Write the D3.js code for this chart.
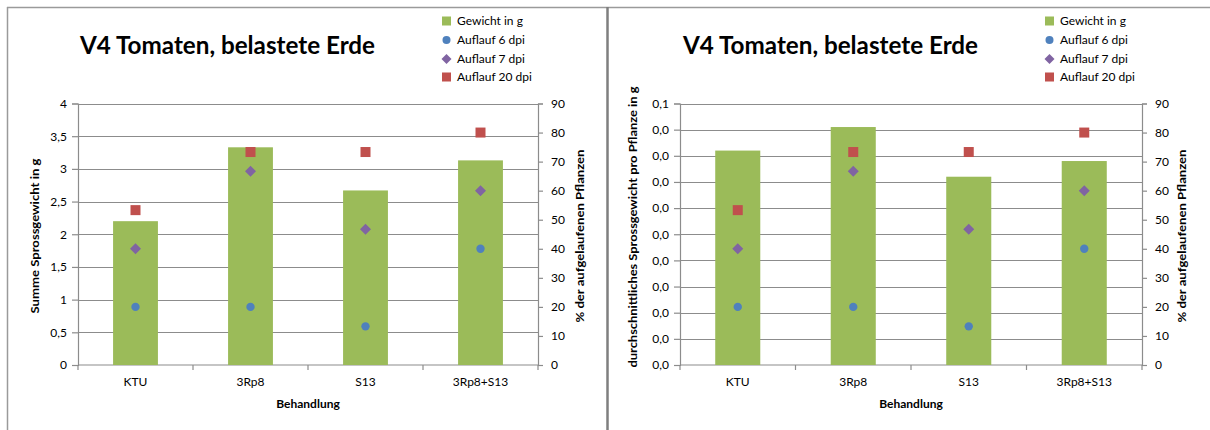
<!DOCTYPE html>
<html>
<head>
<meta charset="utf-8">
<script src="https://cdn.jsdelivr.net/npm/d3@7"></script>
<style>
  html, body { margin: 0; padding: 0; background: #fff; }
  svg { display: block; }
  text { font-family: Lato, "Open Sans", sans-serif; fill: #000; }
</style>
</head>
<body>
<svg id="chart" width="1210" height="430"></svg>
<script>
// ---------- data ----------
const categories = ["KTU", "3Rp8", "S13", "3Rp8+S13"];
const weightSum = [2.2, 3.33, 2.67, 3.13];          // Summe Sprossgewicht in g
const weightAvg = [0.082, 0.091, 0.072, 0.078];     // durchschnittliches Sprossgewicht pro Pflanze in g
const emergence6 = [20, 20, 13.3, 40];              // Auflauf 6 dpi (%)
const emergence7 = [40, 66.7, 46.7, 60];            // Auflauf 7 dpi (%)
const emergence20 = [53.3, 73.3, 73.3, 80];         // Auflauf 20 dpi (%)
const sumTicks = [0, 0.5, 1, 1.5, 2, 2.5, 3, 3.5, 4];
const sumTickLabels = ["0", "0,5", "1", "1,5", "2", "2,5", "3", "3,5", "4"];
const avgTicks = [0, 0.01, 0.02, 0.03, 0.04, 0.05, 0.06, 0.07, 0.08, 0.09, 0.1];
const avgTickLabels = ["0,0", "0,0", "0,0", "0,0", "0,0", "0,0", "0,0", "0,0", "0,0", "0,0", "0,1"];
const pctTicks = [0, 10, 20, 30, 40, 50, 60, 70, 80, 90];
const pctTickLabels = ["0", "10", "20", "30", "40", "50", "60", "70", "80", "90"];
const legendLabels = ["Gewicht in g", "Auflauf 6 dpi", "Auflauf 7 dpi", "Auflauf 20 dpi"];
const chartTitle = "V4 Tomaten, belastete Erde";
const xTitle = "Behandlung";
const leftTitles = ["Summe Sprossgewicht in g", "durchschnittliches Sprossgewicht pro Pflanze in g"];
const rightTitle = "% der aufgelaufenen Pflanzen";

// ---------- style ----------
const C = {
  bar: "#9BBB59", blue: "#4F81BD", purple: "#8064A2", red: "#C0504D",
  grid: "#8c8c8c", axis: "#8c8c8c", frame: "#9a9a9a"
};

const svg = d3.select("#chart");

// outer frames
svg.append("line").attr("x1", 7).attr("x2", 1210).attr("y1", 7.5).attr("y2", 7.5)
  .attr("stroke", C.frame).attr("stroke-width", 1.5);
svg.append("line").attr("x1", 7.5).attr("x2", 7.5).attr("y1", 7).attr("y2", 430)
  .attr("stroke", C.frame).attr("stroke-width", 1.5);
svg.append("line").attr("x1", 607.5).attr("x2", 607.5).attr("y1", 7).attr("y2", 430)
  .attr("stroke", "#7f7f7f").attr("stroke-width", 2.5);

function drawChart(cfg) {
  const g = svg.append("g");
  const top = 103.5, bottom = 365;
  const x = d3.scaleBand().domain(categories).range([cfg.x0, cfg.x1]).padding(0);
  const yL = d3.scaleLinear().domain(cfg.yDomain).range([bottom, top]);
  const yR = d3.scaleLinear().domain([0, 90]).range([bottom, top]);

  // gridlines
  g.append("g").selectAll("line").data(cfg.ticks.slice(1)).join("line")
    .attr("x1", cfg.x0).attr("x2", cfg.x1)
    .attr("y1", d => Math.round(yL(d)) + 0.5).attr("y2", d => Math.round(yL(d)) + 0.5)
    .attr("stroke", C.grid).attr("stroke-width", 1.2);

  // left axis
  const axL = d3.axisLeft(yL).tickValues(cfg.ticks).tickSize(6).tickPadding(5)
    .tickFormat((d, i) => cfg.tickLabels[i]);
  const gL = g.append("g").attr("transform", `translate(${cfg.x0},0)`).call(axL);
  // right axis
  const axR = d3.axisRight(yR).tickValues(pctTicks).tickSize(5).tickPadding(8)
    .tickFormat((d, i) => pctTickLabels[i]);
  const gR = g.append("g").attr("transform", `translate(${cfg.x1},0)`).call(axR);
  // bottom axis with ticks at category boundaries
  const gB = g.append("g").attr("transform", `translate(0,${bottom})`);
  gB.append("line").attr("x1", cfg.x0).attr("x2", cfg.x1).attr("y1", 0).attr("y2", 0)
    .attr("stroke", C.axis).attr("stroke-width", 1.2);
  const bounds = categories.map(c => x(c)).concat([cfg.x1]);
  gB.selectAll("line.tk").data(bounds).join("line").attr("class", "tk")
    .attr("x1", d => d).attr("x2", d => d).attr("y1", 0).attr("y2", 5)
    .attr("stroke", C.axis).attr("stroke-width", 1.2);
  gB.selectAll("text").data(categories).join("text")
    .attr("x", d => x(d) + x.bandwidth() / 2).attr("y", 21)
    .attr("text-anchor", "middle").attr("font-size", 12).text(d => d);

  [gL, gR].forEach(a => {
    a.select(".domain").attr("stroke", C.axis).attr("stroke-width", 1.2);
    a.selectAll(".tick line").attr("stroke", C.axis).attr("stroke-width", 1.2);
    a.selectAll(".tick text").attr("font-size", 12).attr("font-family", "Lato, sans-serif").attr("fill", "#000");
  });

  // bars
  const bw = x.bandwidth() * 0.39;
  g.append("g").selectAll("rect").data(cfg.weights).join("rect")
    .attr("x", (d, i) => x(categories[i]) + (x.bandwidth() - bw) / 2)
    .attr("width", bw)
    .attr("y", d => yL(d)).attr("height", d => bottom - yL(d))
    .attr("fill", C.bar);

  const cx = i => x(categories[i]) + x.bandwidth() / 2;
  // markers
  g.append("g").selectAll("rect").data(emergence20).join("rect")
    .attr("x", (d, i) => cx(i) - 5).attr("y", d => yR(d) - 5)
    .attr("width", 10).attr("height", 10).attr("fill", C.red);
  g.append("g").selectAll("path").data(emergence7).join("path")
    .attr("d", (d, i) => `M${cx(i)},${yR(d) - 5.5}L${cx(i) + 5.5},${yR(d)}L${cx(i)},${yR(d) + 5.5}L${cx(i) - 5.5},${yR(d)}Z`)
    .attr("fill", C.purple);
  g.append("g").selectAll("circle").data(emergence6).join("circle")
    .attr("cx", (d, i) => cx(i)).attr("cy", d => yR(d)).attr("r", 4.2)
    .attr("fill", C.blue);

  // titles
  g.append("text").attr("x", cfg.titleX).attr("y", 54)
    .attr("font-size", 25).attr("font-weight", "bold")
    .attr("textLength", 295).attr("lengthAdjust", "spacingAndGlyphs")
    .text(chartTitle);
  g.append("text").attr("x", (cfg.x0 + cfg.x1) / 2).attr("y", 408)
    .attr("text-anchor", "middle").attr("font-size", 12).attr("font-weight", "bold")
    .text(xTitle);
  g.append("text")
    .attr("transform", `translate(${cfg.lTitleX},${cfg.lTitleY}) rotate(-90)`)
    .attr("text-anchor", "middle").attr("font-size", 11.5).attr("font-weight", "bold")
    .attr("textLength", cfg.lTitleLen).attr("lengthAdjust", "spacingAndGlyphs")
    .text(cfg.leftTitle);
  g.append("text")
    .attr("transform", `translate(${cfg.rTitleX},236) rotate(-90)`)
    .attr("text-anchor", "middle").attr("font-size", 11.5).attr("font-weight", "bold")
    .attr("textLength", 173).attr("lengthAdjust", "spacingAndGlyphs")
    .text(rightTitle);

  // legend
  const lg = g.append("g").attr("transform", `translate(${cfg.legendX},0)`);
  const rows = [21, 40, 59, 77];
  lg.append("rect").attr("x", -5).attr("y", rows[0] - 4.5).attr("width", 9).attr("height", 9).attr("fill", C.bar);
  lg.append("circle").attr("cx", -0.5).attr("cy", rows[1]).attr("r", 4).attr("fill", C.blue);
  lg.append("path").attr("d", `M-0.5,${rows[2] - 5}L4.5,${rows[2]}L-0.5,${rows[2] + 5}L-5.5,${rows[2]}Z`).attr("fill", C.purple);
  lg.append("rect").attr("x", -5).attr("y", rows[3] - 4.5).attr("width", 9).attr("height", 9).attr("fill", C.red);
  lg.selectAll("text").data(legendLabels).join("text")
    .attr("x", 10).attr("y", (d, i) => rows[i] + 4).attr("font-size", 12).text(d => d);
}

drawChart({
  x0: 78, x1: 538, yDomain: [0, 4], ticks: sumTicks, tickLabels: sumTickLabels,
  weights: weightSum, titleX: 80, legendX: 447,
  leftTitle: leftTitles[0], lTitleX: 39, lTitleY: 236, lTitleLen: 155, rTitleX: 584
});
drawChart({
  x0: 680, x1: 1142, yDomain: [0, 0.1], ticks: avgTicks, tickLabels: avgTickLabels,
  weights: weightAvg, titleX: 683, legendX: 1050,
  leftTitle: leftTitles[1], lTitleX: 637, lTitleY: 227, lTitleLen: 281, rTitleX: 1186
});
</script>
</body>
</html>
